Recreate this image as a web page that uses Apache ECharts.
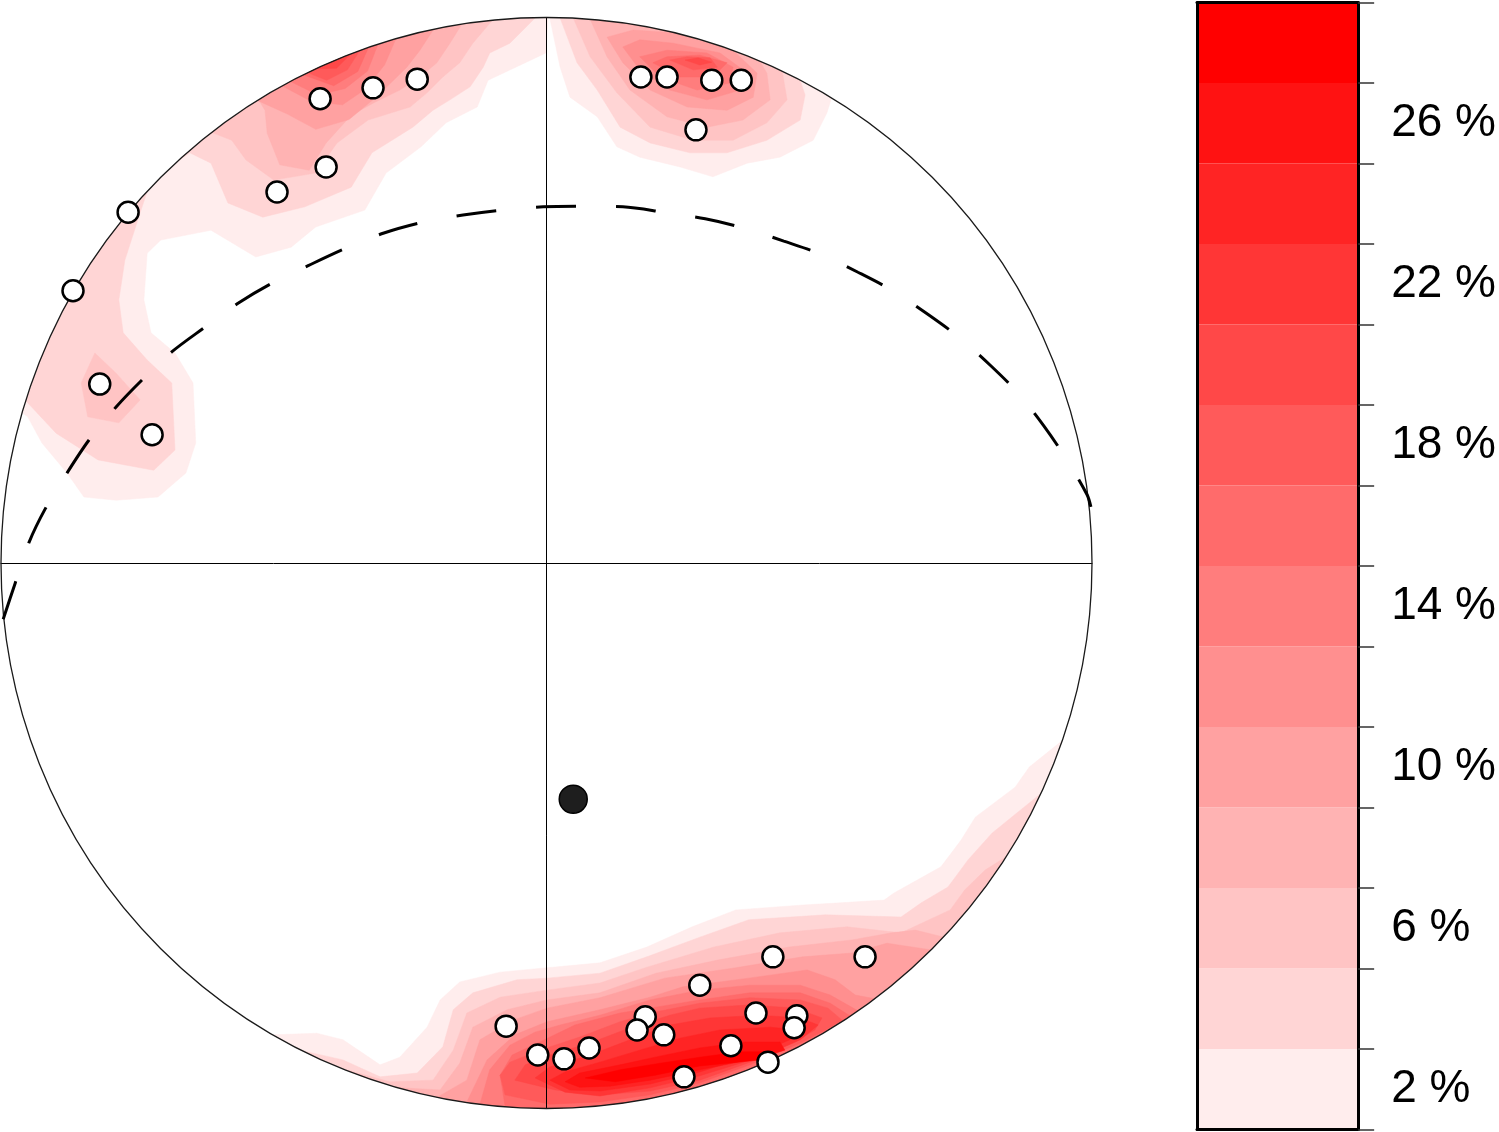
<!DOCTYPE html>
<html>
<head>
<meta charset="utf-8">
<script src="https://cdn.jsdelivr.net/npm/echarts@6/dist/echarts.min.js"></script>
<style>
html,body{margin:0;padding:0;background:#fff;}
#chart{width:1499px;height:1132px;}
</style>
</head>
<body>
<div id="chart"></div>
<script>
// ---- colour scale (density classes) ----
const levelLabels = ['2 %','4 %','6 %','8 %','10 %','12 %','14 %','16 %','18 %','20 %','22 %','24 %','26 %','28 %'];
const levelColors = ['#ffeded','#ffd5d5','#ffc4c4','#ffb3b3','#ffa1a1','#ff8f8f','#ff7d7d','#ff6b6b','#ff5a5a','#ff4848','#ff3636','#ff2424','#ff1212','#ff0000'];

// ---- poles (projected x, y on unit primitive circle) ----
const polePoints = [
  [-0.415,0.851],[-0.318,0.871],[-0.237,0.887],[-0.404,0.726],[-0.494,0.680],
  [-0.767,0.643],[-0.868,0.499],[-0.819,0.328],[-0.723,0.235],
  [0.173,0.891],[0.221,0.891],[0.303,0.885],[0.357,0.885],[0.274,0.794],
  [0.415,-0.722],[0.584,-0.722],[0.281,-0.774],[0.181,-0.832],[0.166,-0.856],
  [0.215,-0.865],[0.384,-0.825],[0.459,-0.830],[0.454,-0.852],[-0.074,-0.849],
  [-0.016,-0.902],[0.032,-0.909],[0.078,-0.889],[0.338,-0.885],[0.406,-0.915],[0.252,-0.942]
];
const meanPole = [[0.049,-0.433]];

// ---- dashed small circle (cone) ----
const coneArc = [
  [-0.996,-0.103],[-0.974,-0.037],[-0.949,0.037],[-0.918,0.101],[-0.879,0.165],[-0.839,0.225],
  [-0.789,0.286],[-0.742,0.335],[-0.687,0.387],[-0.628,0.431],[-0.564,0.477],[-0.503,0.513],
  [-0.435,0.546],[-0.368,0.577],[-0.298,0.605],[-0.226,0.625],[-0.153,0.638],[-0.082,0.647],
  [-0.006,0.653],[0.067,0.654],[0.140,0.653],[0.215,0.643],[0.291,0.631],[0.362,0.614],
  [0.435,0.590],[0.503,0.566],[0.571,0.533],[0.635,0.499],[0.699,0.456],[0.756,0.414],
  [0.813,0.363],[0.864,0.312],[0.912,0.251],[0.952,0.192],[0.991,0.125],[0.998,0.103]
];

// ---- density contours: [level, polygon] ----
const contoursNW = [
  [1, [[0.003,1.005],[-0.001,0.935],[-0.107,0.885],[-0.127,0.836],[-0.184,0.807],[-0.230,0.763],[-0.294,0.715],[-0.333,0.647],[-0.423,0.616],[-0.468,0.579],[-0.533,0.561],[-0.615,0.610],[-0.707,0.592],[-0.732,0.568],[-0.738,0.482],[-0.725,0.422],[-0.681,0.385],[-0.648,0.330],[-0.643,0.220],[-0.661,0.165],[-0.712,0.121],[-0.789,0.115],[-0.848,0.121],[-0.879,0.165],[-0.925,0.220],[-0.951,0.268],[-0.976,0.286],[-4,4]]],
  [2, [[-0.021,0.999],[-0.067,0.953],[-0.104,0.935],[-0.116,0.909],[-0.140,0.873],[-0.177,0.849],[-0.208,0.830],[-0.245,0.799],[-0.320,0.752],[-0.358,0.689],[-0.443,0.653],[-0.520,0.634],[-0.584,0.660],[-0.615,0.733],[-0.654,0.752],[-0.725,0.702],[-0.745,0.642],[-0.773,0.555],[-0.784,0.482],[-0.776,0.422],[-0.732,0.372],[-0.687,0.330],[-0.681,0.207],[-0.720,0.170],[-0.822,0.189],[-0.899,0.238],[-0.956,0.299],[-4,4]]],
  [3, [[-0.100,0.994],[-0.135,0.953],[-0.159,0.917],[-0.190,0.891],[-0.219,0.862],[-0.250,0.836],[-0.327,0.812],[-0.384,0.770],[-0.423,0.715],[-0.500,0.702],[-0.551,0.739],[-0.577,0.775],[-0.626,0.794],[-4,4]]],
  [3, [[-0.828,0.385],[-0.789,0.348],[-0.745,0.299],[-0.784,0.257],[-0.841,0.268],[-0.853,0.330]]],
  [4, [[-0.155,0.988],[-0.177,0.953],[-0.201,0.917],[-0.232,0.891],[-0.269,0.867],[-0.314,0.845],[-0.358,0.821],[-0.404,0.770],[-0.435,0.720],[-0.489,0.730],[-0.512,0.788],[-0.516,0.830],[-0.529,0.851],[-4,4]]],
  [5, [[-0.208,0.977],[-0.232,0.940],[-0.256,0.909],[-0.311,0.855],[-0.362,0.813],[-0.423,0.795],[-0.475,0.823],[-0.530,0.848],[-4,4]]],
  [6, [[-0.276,0.961],[-0.297,0.913],[-0.333,0.868],[-0.374,0.840],[-0.431,0.846],[-0.485,0.875],[-4,4]]],
  [7, [[-0.309,0.951],[-0.328,0.902],[-0.369,0.870],[-0.419,0.858],[-0.470,0.883],[-4,4]]],
  [8, [[-0.326,0.946],[-0.346,0.901],[-0.390,0.875],[-0.446,0.895],[-4,4]]],
  [9, [[-0.342,0.940],[-0.365,0.904],[-0.403,0.885],[-0.438,0.899],[-4,4]]],
  [10, [[-0.358,0.934],[-0.385,0.907],[-0.423,0.906],[-4,4]]]
];
const contoursNNE = [
  [1, [[0.006,0.999],[0.025,0.909],[0.043,0.854],[0.093,0.818],[0.129,0.763],[0.171,0.744],[0.245,0.726],[0.305,0.708],[0.368,0.733],[0.428,0.744],[0.489,0.775],[0.514,0.825],[0.523,0.854],[1,4]]],
  [2, [[0.025,0.999],[0.056,0.917],[0.093,0.867],[0.135,0.799],[0.190,0.770],[0.263,0.752],[0.331,0.752],[0.404,0.775],[0.465,0.812],[0.474,0.858],[0.465,0.885],[1,4]]],
  [3, [[0.049,0.999],[0.080,0.928],[0.129,0.862],[0.190,0.799],[0.269,0.775],[0.342,0.775],[0.404,0.807],[0.441,0.849],[0.432,0.902],[1,4]]],
  [4, [[0.080,0.997],[0.111,0.928],[0.153,0.867],[0.221,0.818],[0.294,0.799],[0.360,0.812],[0.410,0.849],[0.404,0.898],[0.391,0.920],[1,4]]],
  [5, [[0.111,0.964],[0.140,0.917],[0.190,0.867],[0.258,0.836],[0.331,0.830],[0.379,0.854],[0.386,0.898],[0.342,0.940],[0.232,0.972],[0.159,0.977]]],
  [6, [[0.140,0.946],[0.171,0.904],[0.226,0.867],[0.294,0.849],[0.355,0.867],[0.360,0.904],[0.318,0.935],[0.232,0.953],[0.171,0.959]]],
  [7, [[0.171,0.928],[0.208,0.891],[0.276,0.867],[0.336,0.880],[0.342,0.909],[0.294,0.935],[0.221,0.940]]],
  [8, [[0.195,0.917],[0.245,0.891],[0.305,0.891],[0.331,0.917],[0.281,0.931],[0.221,0.928]]],
  [9, [[0.226,0.922],[0.269,0.904],[0.313,0.909],[0.300,0.926],[0.258,0.928]]],
  [10, [[0.254,0.922],[0.281,0.913],[0.303,0.918],[0.278,0.926]]]
];
const contoursS = [
  [1, [[-0.501,-0.865],[-0.421,-0.862],[-0.373,-0.874],[-0.305,-0.920],[-0.269,-0.906],[-0.219,-0.851],[-0.195,-0.801],[-0.159,-0.768],[-0.085,-0.750],[0.001,-0.742],[0.098,-0.733],[0.184,-0.704],[0.267,-0.667],[0.347,-0.636],[0.470,-0.627],[0.538,-0.623],[0.619,-0.618],[0.637,-0.605],[0.723,-0.557],[0.760,-0.508],[0.786,-0.466],[0.859,-0.411],[0.885,-0.374],[0.945,-0.326],[0,-5]]],
  [2, [[-0.452,-0.893],[-0.373,-0.911],[-0.305,-0.942],[-0.237,-0.935],[-0.190,-0.887],[-0.171,-0.819],[-0.135,-0.788],[-0.054,-0.764],[0.001,-0.761],[0.098,-0.752],[0.184,-0.722],[0.281,-0.686],[0.371,-0.654],[0.511,-0.645],[0.650,-0.649],[0.687,-0.623],[0.736,-0.594],[0.773,-0.544],[0.817,-0.495],[0.907,-0.422],[0,-5]]],
  [3, [[-0.379,-0.926],[-0.287,-0.951],[-0.208,-0.948],[-0.171,-0.893],[-0.146,-0.825],[-0.085,-0.796],[0.001,-0.783],[0.098,-0.770],[0.184,-0.741],[0.307,-0.704],[0.428,-0.678],[0.551,-0.667],[0.650,-0.678],[0.740,-0.636],[0.767,-0.599],[0.804,-0.563],[0.842,-0.539],[0,-5]]],
  [4, [[-0.269,-0.962],[-0.195,-0.966],[-0.159,-0.917],[-0.135,-0.851],[-0.072,-0.819],[0.001,-0.801],[0.098,-0.788],[0.201,-0.752],[0.314,-0.728],[0.445,-0.704],[0.560,-0.691],[0.633,-0.678],[0.676,-0.673],[0.729,-0.686],[0,-5]]],
  [5, [[-0.208,-0.984],[-0.146,-0.948],[-0.122,-0.874],[-0.061,-0.838],[0.001,-0.816],[0.098,-0.797],[0.217,-0.761],[0.347,-0.742],[0.470,-0.722],[0.560,-0.715],[0.624,-0.697],[0.703,-0.709],[0,-5]]],
  [6, [[-0.146,-0.988],[-0.109,-0.911],[-0.058,-0.865],[0.001,-0.841],[0.098,-0.819],[0.190,-0.796],[0.250,-0.777],[0.371,-0.761],[0.478,-0.746],[0.529,-0.764],[0.566,-0.792],[0.602,-0.799],[0,-5]]],
  [7, [[-0.122,-0.992],[-0.104,-0.929],[-0.067,-0.884],[-0.021,-0.860],[0.025,-0.847],[0.098,-0.829],[0.190,-0.801],[0.281,-0.783],[0.373,-0.774],[0.465,-0.774],[0.520,-0.792],[0.571,-0.821],[0,-5]]],
  [8, [[-0.076,-0.995],[-0.085,-0.939],[-0.063,-0.902],[-0.012,-0.878],[0.052,-0.847],[0.135,-0.825],[0.190,-0.816],[0.281,-0.801],[0.373,-0.788],[0.465,-0.788],[0.520,-0.807],[0.556,-0.830],[0,-5]]],
  [9, [[-0.076,-0.975],[-0.085,-0.939],[-0.067,-0.915],[-0.012,-0.893],[0.061,-0.869],[0.135,-0.841],[0.190,-0.825],[0.281,-0.807],[0.373,-0.797],[0.465,-0.801],[0.516,-0.816],[0.542,-0.838],[0.511,-0.856],[0.465,-0.880],[0.373,-0.920],[0.281,-0.953],[0.190,-0.975],[0.098,-0.988],[0.006,-0.992]]],
  [10, [[-0.058,-0.948],[-0.039,-0.920],[0.006,-0.902],[0.080,-0.880],[0.153,-0.852],[0.226,-0.829],[0.281,-0.816],[0.373,-0.810],[0.456,-0.816],[0.505,-0.834],[0.492,-0.856],[0.456,-0.878],[0.373,-0.915],[0.281,-0.948],[0.190,-0.968],[0.098,-0.975],[0.016,-0.966]]],
  [11, [[-0.021,-0.944],[0.006,-0.924],[0.080,-0.902],[0.153,-0.874],[0.226,-0.847],[0.300,-0.834],[0.391,-0.829],[0.465,-0.834],[0.498,-0.847],[0.465,-0.874],[0.391,-0.906],[0.281,-0.940],[0.190,-0.962],[0.098,-0.977],[0.034,-0.970]]],
  [12, [[0.006,-0.948],[0.034,-0.933],[0.098,-0.915],[0.171,-0.893],[0.245,-0.871],[0.318,-0.856],[0.410,-0.851],[0.465,-0.856],[0.446,-0.874],[0.391,-0.898],[0.281,-0.933],[0.190,-0.955],[0.098,-0.968],[0.043,-0.966]]],
  [13, [[0.034,-0.951],[0.061,-0.935],[0.135,-0.920],[0.208,-0.904],[0.281,-0.889],[0.364,-0.878],[0.428,-0.878],[0.437,-0.893],[0.391,-0.907],[0.281,-0.929],[0.190,-0.948],[0.116,-0.959],[0.061,-0.961]]],
  [14, [[0.071,-0.944],[0.135,-0.929],[0.208,-0.917],[0.281,-0.906],[0.355,-0.896],[0.410,-0.896],[0.391,-0.911],[0.281,-0.922],[0.199,-0.939],[0.126,-0.951]]]
];

const allContours = [].concat(contoursNW, contoursNNE, contoursS)
  .map((c, i) => ({ level: c[0], pts: c[1], order: i }))
  .sort((a, b) => a.level - b.level || a.order - b.order);

const chart = echarts.init(document.getElementById('chart'), null, { renderer: 'canvas' });

function clipCircle(api) {
  const o = api.coord([0, 0]);
  const r = api.size([1, 0])[0];
  return { type: 'circle', shape: { cx: o[0], cy: o[1], r: r } };
}

const option = {
  animation: false,
  backgroundColor: '#ffffff',
  grid: [
    { left: 1, top: 17.5, width: 1091, height: 1091 },
    { left: 1197, top: 2.5, width: 162, height: 1127 }
  ],
  xAxis: [
    { gridIndex: 0, type: 'value', min: -1, max: 1, z: 3,
      axisLine: { show: true, onZero: true, lineStyle: { color: '#000', width: 1 } },
      axisTick: { show: false }, axisLabel: { show: false }, splitLine: { show: false } },
    { gridIndex: 1, type: 'value', min: 0, max: 1, position: 'bottom', z: 10,
      axisLine: { show: true, onZero: false, lineStyle: { color: '#000', width: 3 } },
      axisTick: { show: false }, axisLabel: { show: false }, splitLine: { show: false } },
    { gridIndex: 1, type: 'value', min: 0, max: 1, position: 'top', z: 10,
      axisLine: { show: true, onZero: false, lineStyle: { color: '#000', width: 3 } },
      axisTick: { show: false }, axisLabel: { show: false }, splitLine: { show: false } }
  ],
  yAxis: [
    { gridIndex: 0, type: 'value', min: -1, max: 1, z: 3,
      axisLine: { show: true, onZero: true, lineStyle: { color: '#000', width: 1 } },
      axisTick: { show: false }, axisLabel: { show: false }, splitLine: { show: false } },
    { gridIndex: 1, type: 'category', data: levelLabels, position: 'right', z: 10,
      axisLine: { show: true, onZero: false, lineStyle: { color: '#000', width: 3 } },
      axisTick: { show: true, interval: 0, alignWithLabel: false, inside: false, length: 16,
                  lineStyle: { color: '#333', width: 1.5 } },
      axisLabel: { show: true, interval: function (i) { return i % 2 === 0; }, margin: 33,
                   fontSize: 46, fontFamily: 'Liberation Sans, Arial, sans-serif', color: '#000' },
      splitLine: { show: false } },
    { gridIndex: 1, type: 'category', data: levelLabels, position: 'left', z: 10,
      axisLine: { show: true, onZero: false, lineStyle: { color: '#000', width: 3 } },
      axisTick: { show: false }, axisLabel: { show: false }, splitLine: { show: false } }
  ],
  series: [
    {
      type: 'custom', xAxisIndex: 0, yAxisIndex: 0, z: 1, silent: true,
      data: allContours.map((c, i) => [i, c.level]),
      renderItem: function (params, api) {
        const c = allContours[params.dataIndex];
        const pts = c.pts.map(p => api.coord(p));
        return {
          type: 'polygon',
          shape: { points: pts },
          style: { fill: levelColors[c.level - 1], stroke: levelColors[c.level - 1], lineWidth: 0.5 },
          clipPath: clipCircle(api)
        };
      }
    },
    {
      type: 'custom', xAxisIndex: 0, yAxisIndex: 0, z: 4, silent: true,
      data: [[0, 0]],
      renderItem: function (params, api) {
        const c = clipCircle(api);
        return { type: 'circle', shape: c.shape,
                 style: { fill: 'none', stroke: '#1a1a1a', lineWidth: 1.3 } };
      }
    },
    {
      type: 'line', xAxisIndex: 0, yAxisIndex: 0, z: 5, silent: true,
      data: coneArc, smooth: 0.3, symbol: 'none',
      lineStyle: { color: '#000', width: 3, type: [40, 40] }
    },
    {
      type: 'scatter', xAxisIndex: 0, yAxisIndex: 0, z: 6, silent: true,
      data: polePoints, symbol: 'circle', symbolSize: 21,
      itemStyle: { color: '#ffffff', borderColor: '#000', borderWidth: 2.5, opacity: 1 }
    },
    {
      type: 'scatter', xAxisIndex: 0, yAxisIndex: 0, z: 6, silent: true,
      data: meanPole, symbol: 'circle', symbolSize: 28,
      itemStyle: { color: '#1e1e1e', borderColor: '#000', borderWidth: 1.5, opacity: 1 }
    },
    {
      type: 'bar', xAxisIndex: 1, yAxisIndex: 1, z: 2, silent: true,
      barCategoryGap: '0%', barWidth: '100%',
      data: levelColors.map(c => ({ value: 1, itemStyle: { color: c } }))
    }
  ]
};
chart.setOption(option);
</script>
</body>
</html>
